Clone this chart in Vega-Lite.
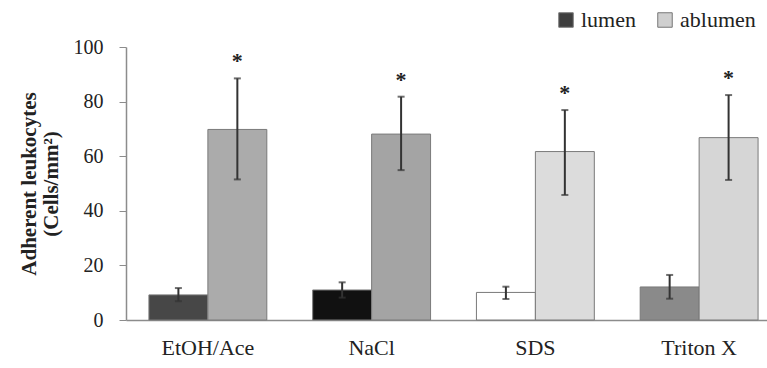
{
  "$schema": "https://vega.github.io/schema/vega-lite/v6.json",
  "autosize": "none",
  "width": 641,
  "height": 273,
  "padding": {"left": 126, "top": 47, "right": 0, "bottom": 48},
  "background": "white",
  "config": {
    "view": {"stroke": null},
    "font": "Liberation Serif"
  },
  "data": {
    "values": [
      {"treatment": "EtOH/Ace", "series": "lumen", "id": "EtOH/Ace lumen", "value": 9.2, "lo": 6.9, "hi": 11.7},
      {"treatment": "EtOH/Ace", "series": "ablumen", "id": "EtOH/Ace ablumen", "value": 69.8, "lo": 51.5, "hi": 88.5},
      {"treatment": "NaCl", "series": "lumen", "id": "NaCl lumen", "value": 11.0, "lo": 8.2, "hi": 13.8},
      {"treatment": "NaCl", "series": "ablumen", "id": "NaCl ablumen", "value": 68.1, "lo": 54.9, "hi": 81.8},
      {"treatment": "SDS", "series": "lumen", "id": "SDS lumen", "value": 10.1, "lo": 7.7, "hi": 12.2},
      {"treatment": "SDS", "series": "ablumen", "id": "SDS ablumen", "value": 61.7, "lo": 45.8, "hi": 76.9},
      {"treatment": "Triton X", "series": "lumen", "id": "Triton X lumen", "value": 12.1, "lo": 7.8, "hi": 16.5},
      {"treatment": "Triton X", "series": "ablumen", "id": "Triton X ablumen", "value": 66.8, "lo": 51.3, "hi": 82.4}
    ]
  },
  "encoding": {
    "x": {
      "field": "treatment", "type": "nominal", "sort": null,
      "scale": {"range": [0, 655], "paddingInner": 0.28, "paddingOuter": 0.14},
      "axis": {
        "title": null, "labelAngle": 0, "labelFontSize": 22, "labelColor": "#222",
        "labelPadding": 17, "ticks": false, "domainColor": "#8c8c8c", "domainWidth": 1.5
      }
    },
    "xOffset": {
      "field": "series", "type": "nominal", "sort": ["lumen", "ablumen"],
      "scale": {"paddingInner": 0, "paddingOuter": 0}
    }
  },
  "layer": [
    {
      "mark": {"type": "bar", "stroke": "#7a7a7a", "strokeWidth": 1},
      "encoding": {
        "y": {
          "field": "value", "type": "quantitative",
          "scale": {"domain": [0, 100], "nice": false},
          "axis": {
            "values": [0, 10, 20, 30, 40, 50, 60, 70, 80, 90, 100],
            "labelExpr": "datum.value % 20 == 0 ? datum.label : ''",
            "grid": false, "tickSize": 7, "tickColor": "#8c8c8c", "domainColor": "#8c8c8c",
            "domainWidth": 1.5, "labelFontSize": 20, "labelColor": "#222", "labelPadding": 16,
            "title": ["Adherent leukocytes", "(Cells/mm²)"],
            "titleFontSize": 21, "titleFontWeight": "bold", "titleColor": "#222",
            "titlePadding": 12, "titleLineHeight": 22
          }
        },
        "fill": {
          "field": "id", "type": "nominal", "legend": null,
          "scale": {
            "domain": ["EtOH/Ace lumen", "EtOH/Ace ablumen", "NaCl lumen", "NaCl ablumen", "SDS lumen", "SDS ablumen", "Triton X lumen", "Triton X ablumen"],
            "range": ["#474747", "#ababab", "#111111", "#a4a4a4", "#ffffff", "#dcdcdc", "#8a8a8a", "#d6d6d6"]
          }
        }
      }
    },
    {
      "mark": {"type": "rule", "color": "#333333", "strokeWidth": 2},
      "encoding": {
        "y": {"field": "lo", "type": "quantitative"},
        "y2": {"field": "hi"}
      }
    },
    {
      "mark": {"type": "tick", "color": "#333333", "size": 7, "thickness": 2},
      "encoding": {"y": {"field": "hi", "type": "quantitative"}}
    },
    {
      "mark": {"type": "tick", "color": "#333333", "size": 7, "thickness": 2},
      "encoding": {"y": {"field": "lo", "type": "quantitative"}}
    },
    {
      "transform": [{"filter": "datum.series == 'ablumen'"}],
      "mark": {"type": "text", "text": "*", "fontSize": 22, "fontWeight": "bold", "color": "#222", "baseline": "bottom", "dy": -5},
      "encoding": {"y": {"field": "hi", "type": "quantitative"}}
    },
    {
      "mark": {"type": "square", "opacity": 0, "size": 1},
      "encoding": {
        "y": {"field": "value", "type": "quantitative"},
        "color": {
          "field": "series", "type": "nominal",
          "scale": {"domain": ["lumen", "ablumen"], "range": ["#3e3e3e", "#cfcfcf"]},
          "legend": {
            "title": null, "orient": "none", "direction": "horizontal",
            "legendX": 429, "legendY": -38,
            "symbolType": "square", "symbolSize": 210, "symbolOpacity": 1,
            "symbolStrokeColor": "#777", "symbolStrokeWidth": 1,
            "labelFontSize": 22, "labelColor": "#222", "labelOffset": 4, "columnPadding": 18
          }
        }
      }
    }
  ]
}
